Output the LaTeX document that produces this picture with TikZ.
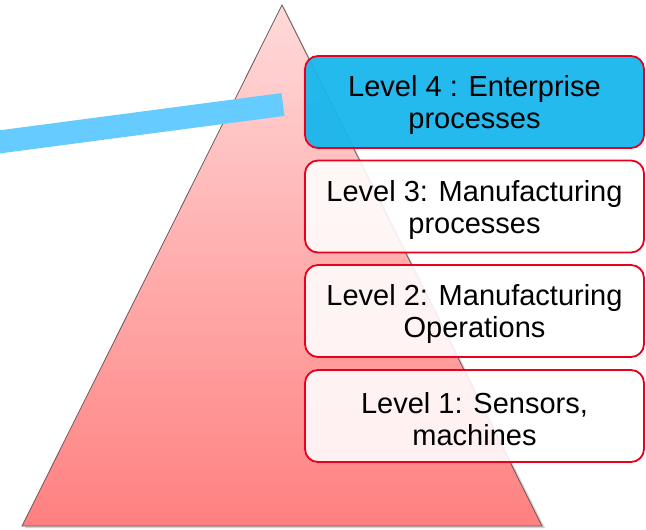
\documentclass[tikz,border=0pt]{standalone}
\usepackage{fontspec}
\setmainfont{Liberation Sans}
\definecolor{boxred}{HTML}{E8001C}
\definecolor{lvlblue}{HTML}{18B6EC}
\definecolor{barblue}{HTML}{66CCFF}
\definecolor{tritop}{HTML}{FFDADA}
\definecolor{tribot}{HTML}{FF8080}
\definecolor{triedge}{HTML}{6A5A5A}
\newcommand{\lvlstrut}{\rule{0pt}{28pt}}
\tikzset{
  lvlbox/.style={draw=boxred, line width=1.8pt, rounded corners=13pt,
    minimum width=339pt, minimum height=92pt, align=center, inner sep=2pt,
    font=\fontsize{29}{32}\selectfont, text=black},
  whitebox/.style={lvlbox, fill=white, fill opacity=0.88, text opacity=1},
  bluebox/.style={lvlbox, fill=lvlblue, fill opacity=0.95, text opacity=1},
  bar/.style={draw=barblue, line width=23pt},
}
\begin{document}
\begin{tikzpicture}[x=1pt,y=-1pt]
\useasboundingbox (0,0) rectangle (646,530);
% pyramid shadow
\fill[black!35, opacity=0.5] (284,7) -- (545,528) -- (25,528) -- cycle;
\coordinate (apex) at (282,5);
\coordinate (bl) at (22,526);
\coordinate (br) at (542,526);
\shade[top color=tritop, bottom color=tribot, draw=triedge, line width=0.8pt]
  (apex) -- (br) -- (bl) -- cycle;
% blue bar
\coordinate (barL) at (-5,142.5);
\coordinate (barR) at (283,104.5);
\draw[bar] (barL) -- (barR);
% levels
\node[bluebox]  (l4) at (474.5,102) {\lvlstrut Level 4 : Enterprise\\processes};
\node[whitebox] (l3) at (474.5,206.5) {\lvlstrut Level 3: Manufacturing\\processes};
\node[whitebox] (l2) at (474.5,311) {\lvlstrut Level 2: Manufacturing\\Operations};
\node[whitebox] (l1) at (474.5,416) {\lvlstrut Level 1: Sensors,\\machines};
\end{tikzpicture}
\end{document}
